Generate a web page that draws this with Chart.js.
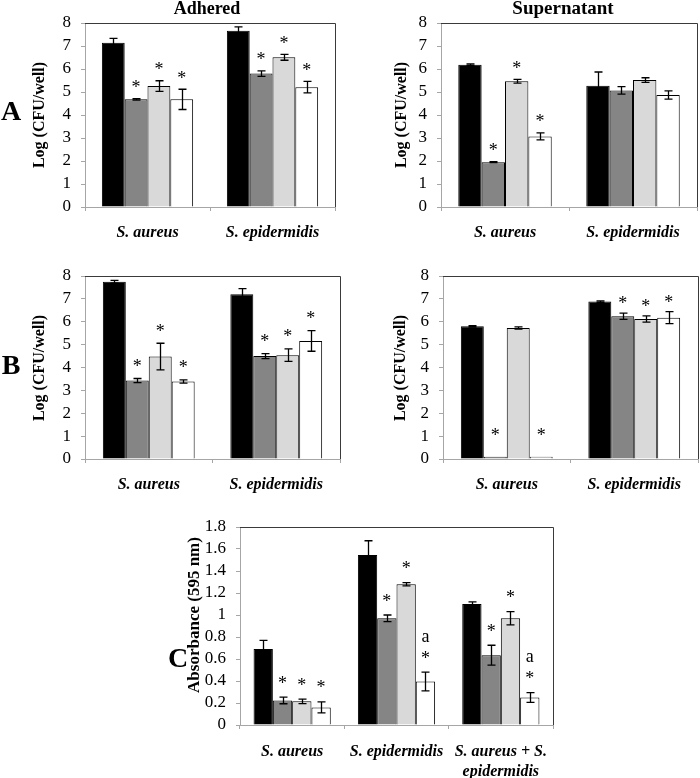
<!DOCTYPE html>
<html><head><meta charset="utf-8">
<script src="https://cdn.jsdelivr.net/npm/chart.js@4.4.1/dist/chart.umd.min.js"></script>
<style>
html,body{margin:0;padding:0;background:#fff;}
body{width:700px;height:778px;position:relative;overflow:hidden;}
canvas{position:absolute;}
</style></head><body>
<canvas id="pA1"></canvas>
<canvas id="pA2"></canvas>
<canvas id="pB1"></canvas>
<canvas id="pB2"></canvas>
<canvas id="pC"></canvas>
<script>
// ---------- DATA ----------
const categoriesAB = ['S. aureus', 'S. epidermidis'];
const categoriesC = ['S. aureus', 'S. epidermidis', ['S. aureus + S.', 'epidermidis']];
const logTicks = [0, 1, 2, 3, 4, 5, 6, 7, 8];
const absTicks = [0, 0.2, 0.4, 0.6, 0.8, 1, 1.2, 1.4, 1.6, 1.8];

// series order: black, dark grey, light grey, white ; each array = per category
const adheredA_values = [[7.14, 7.66], [4.68, 5.80], [5.26, 6.51], [4.68, 5.21]];
const adheredA_errors = [[0.19, 0.17], [0.03, 0.12], [0.23, 0.13], [0.44, 0.25]];
const adheredA_marks  = [['', ''], ['*', '*'], ['*', '*'], ['*', '*']];

const supernatA_values = [[6.19, 5.27], [1.95, 5.07], [5.47, 5.52], [3.07, 4.87]];
const supernatA_errors = [[0.03, 0.60], [0.02, 0.16], [0.08, 0.10], [0.15, 0.18]];
const supernatA_marks  = [['', ''], ['*', ''], ['*', ''], ['*', '']];

const adheredB_values = [[7.75, 7.20], [3.43, 4.50], [4.48, 4.54], [3.39, 5.16]];
const adheredB_errors = [[0.06, 0.25], [0.09, 0.11], [0.58, 0.27], [0.07, 0.45]];
const adheredB_marks  = [['', ''], ['*', '*'], ['*', '*'], ['*', '*']];

const supernatB_values = [[5.80, 6.88], [0.10, 6.24], [5.73, 6.12], [0.10, 6.18]];
const supernatB_errors = [[0.03, 0.03], [0, 0.14], [0.05, 0.14], [0, 0.26]];
const supernatB_marks  = [['', ''], ['*', '*'], ['', '*'], ['*', '*']];

const biofilmC_values = [[0.69, 1.545, 1.10], [0.223, 0.97, 0.635], [0.215, 1.28, 0.97], [0.16, 0.395, 0.25]];
const biofilmC_errors = [[0.08, 0.13, 0.02], [0.03, 0.03, 0.09], [0.02, 0.015, 0.06], [0.05, 0.085, 0.045]];
const biofilmC_marks  = [['', '', ''], ['*', '*', '*'], ['*', '*', '*'], ['*', 'a\n*', 'a\n*']];

// ---------- STYLE ----------
const SERIF = '"Liberation Serif","Times New Roman",serif';
const barColors = ['#000000', '#858585', '#d9d9d9', '#ffffff'];
const axisGrey = '#a6a6a6';

function makePanel(id, o) {
  const canvas = document.getElementById(id);
  canvas.width = o.w; canvas.height = o.h;
  canvas.style.left = o.x + 'px'; canvas.style.top = o.y + 'px';
  canvas.style.width = o.w + 'px'; canvas.style.height = o.h + 'px';

  const datasets = o.values.map((vals, i) => ({
    label: 'series ' + (i + 1),
    data: vals,
    backgroundColor: barColors[i],
    borderColor: '#000000',
    borderWidth: 1,
    categoryPercentage: o.catPct,
    barPercentage: 1.0
  }));

  const extras = {
    id: 'extras_' + id,
    afterDatasetsDraw(chart) {
      const ctx = chart.ctx, ys = chart.scales.y;
      ctx.save();
      ctx.strokeStyle = '#000';
      ctx.lineWidth = 1.3;
      o.errors.forEach((errs, i) => {
        const meta = chart.getDatasetMeta(i);
        errs.forEach((e, j) => {
          if (!e) return;
          const v = o.values[i][j];
          const bar = meta.data[j];
          const x = Math.round(bar.x) + 0.5;
          const yt = ys.getPixelForValue(v + e), yb = ys.getPixelForValue(v - e);
          ctx.beginPath();
          ctx.moveTo(x, yt); ctx.lineTo(x, yb);
          ctx.moveTo(x - 4, yt); ctx.lineTo(x + 4, yt);
          ctx.moveTo(x - 4, yb); ctx.lineTo(x + 4, yb);
          ctx.stroke();
        });
      });
      ctx.restore();
    },
    afterDraw(chart) {
      const ctx = chart.ctx, a = chart.chartArea, ys = chart.scales.y;
      ctx.save();
      // frame top and right
      ctx.strokeStyle = '#3a3a3a';
      ctx.lineWidth = 1;
      ctx.beginPath();
      ctx.moveTo(a.left, Math.round(a.top) + 0.5);
      ctx.lineTo(Math.round(a.right) + 0.5, Math.round(a.top) + 0.5);
      ctx.lineTo(Math.round(a.right) + 0.5, a.bottom);
      ctx.stroke();
      // significance marks
      ctx.fillStyle = '#000';
      ctx.textAlign = 'center';
      ctx.textBaseline = 'alphabetic';
      ctx.font = '18px ' + SERIF;
      o.marks.forEach((mk, i) => {
        const meta = chart.getDatasetMeta(i);
        mk.forEach((m, j) => {
          if (!m) return;
          const v = o.values[i][j] + (o.errors[i][j] || 0);
          let base = Math.min(ys.getPixelForValue(v) - (o.markGap - 9), a.bottom - 18);
          const lines = m.split('\n').reverse();
          lines.forEach((t, k) => {
            ctx.fillText(t, meta.data[j].x, base - k * 22);
          });
        });
      });
      // y axis title
      ctx.save();
      ctx.translate(o.yTitleX, o.yTitleY);
      ctx.rotate(-Math.PI / 2);
      ctx.font = 'bold ' + o.yTitleSize + 'px ' + SERIF;
      ctx.textBaseline = 'middle';
      ctx.fillText(o.yTitle, 0, 0);
      ctx.restore();
      // panel title
      if (o.title) {
        ctx.font = 'bold ' + o.titleSize + 'px ' + SERIF;
        ctx.textBaseline = 'middle';
        ctx.fillText(o.title, o.titleX, o.titleY);
      }
      // panel letter
      if (o.letter) {
        ctx.font = 'bold 28px ' + SERIF;
        ctx.textBaseline = 'middle';
        ctx.fillText(o.letter, o.letterX, o.letterY);
      }
      ctx.restore();
    }
  };

  new Chart(canvas, {
    type: 'bar',
    data: { labels: o.labels, datasets },
    options: {
      responsive: false,
      animation: false,
      devicePixelRatio: 1,
      layout: { padding: o.pad },
      plugins: { legend: { display: false }, tooltip: { enabled: false }, title: { display: false } },
      scales: {
        x: {
          offset: true,
          grid: { display: true, drawOnChartArea: false, drawTicks: true, tickLength: 4, color: axisGrey, offset: true },
          border: { display: true, color: axisGrey, width: 1 },
          ticks: { color: '#000', padding: o.xPad, maxRotation: 0, autoSkip: false,
                   font: { family: SERIF, size: 16, weight: 'bold', style: 'italic', lineHeight: 1.25 } },
          afterFit: s => { s.height = o.xH; }
        },
        y: {
          min: o.ticks[0],
          max: o.ticks[o.ticks.length - 1],
          afterBuildTicks: s => { s.ticks = o.ticks.map(v => ({ value: v })); },
          grid: { display: true, drawOnChartArea: false, drawTicks: true, tickLength: 4, color: axisGrey },
          border: { display: true, color: axisGrey, width: 1 },
          ticks: { color: '#000', padding: 10, autoSkip: false, font: { family: SERIF, size: 17 },
                   callback: v => String(Math.round(v * 10) / 10) },
          afterFit: s => { s.width = o.yW; }
        }
      }
    },
    plugins: [extras]
  });
}

makePanel('pA1', {
  x: 0, y: 0, w: 350, h: 250, pad: { top: 23, right: 15, left: 0, bottom: 0 }, yW: 85, xH: 43, xPad: 12,
  labels: categoriesAB, ticks: logTicks, values: adheredA_values, errors: adheredA_errors, marks: adheredA_marks,
  catPct: 0.73, markGap: 14.5,
  yTitle: 'Log (CFU/well)', yTitleSize: 16, yTitleX: 40, yTitleY: 115,
  title: 'Adhered', titleSize: 18, titleX: 207, titleY: 9,
  letter: 'A', letterX: 11, letterY: 113
});
makePanel('pA2', {
  x: 350, y: 0, w: 350, h: 250, pad: { top: 23, right: 3, left: 0, bottom: 0 }, yW: 91, xH: 43, xPad: 12,
  labels: categoriesAB, ticks: logTicks, values: supernatA_values, errors: supernatA_errors, marks: supernatA_marks,
  catPct: 0.73, markGap: 14.5,
  yTitle: 'Log (CFU/well)', yTitleSize: 16, yTitleX: 52, yTitleY: 115,
  title: 'Supernatant', titleSize: 19, titleX: 213, titleY: 9
});
makePanel('pB1', {
  x: 0, y: 250, w: 350, h: 250, pad: { top: 26, right: 10, left: 0, bottom: 0 }, yW: 85, xH: 41, xPad: 12,
  labels: categoriesAB, ticks: logTicks, values: adheredB_values, errors: adheredB_errors, marks: adheredB_marks,
  catPct: 0.72, markGap: 15.5,
  yTitle: 'Log (CFU/well)', yTitleSize: 16, yTitleX: 40, yTitleY: 118,
  letter: 'B', letterX: 11, letterY: 117
});
makePanel('pB2', {
  x: 350, y: 250, w: 350, h: 250, pad: { top: 26, right: 2, left: 0, bottom: 0 }, yW: 93, xH: 41, xPad: 12,
  labels: categoriesAB, ticks: logTicks, values: supernatB_values, errors: supernatB_errors, marks: supernatB_marks,
  catPct: 0.72, markGap: 13,
  yTitle: 'Log (CFU/well)', yTitleSize: 16, yTitleX: 51, yTitleY: 118
});
makePanel('pC', {
  x: 150, y: 500, w: 450, h: 278, pad: { top: 27, right: 47, left: 0, bottom: 0 }, yW: 90, xH: 53, xPad: 13,
  labels: categoriesC, ticks: absTicks, values: biofilmC_values, errors: biofilmC_errors, marks: biofilmC_marks,
  catPct: 0.74, markGap: 17.5,
  yTitle: 'Absorbance (595 nm)', yTitleSize: 17, yTitleX: 45, yTitleY: 115,
  letter: 'C', letterX: 28, letterY: 160
});
</script>
</body></html>
